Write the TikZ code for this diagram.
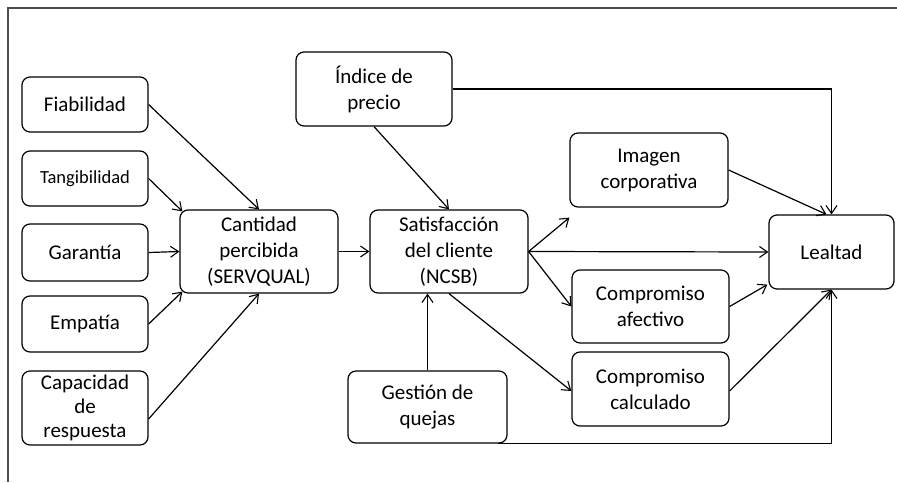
\documentclass[tikz,border=0pt]{standalone}
\usepackage{fontspec}
\setmainfont{Carlito}
\usetikzlibrary{arrows.meta}
\begin{document}
\begin{tikzpicture}[x=1pt,y=-1pt,
  box/.style={draw, rounded corners=8pt, align=center, inner sep=0pt, line width=1.2pt,
    font=\fontsize{21}{26}\selectfont},
  arr/.style={-{Straight Barb[length=8pt,width=11pt,line width=1.1pt]}, line width=1.2pt},
  ln/.style={line width=1.2pt}]
\useasboundingbox (0,0) rectangle (897,482);
\draw[line width=1.4pt, black!70] (897,8) -- (8,8) -- (8,482);
\node[box, minimum width=126pt, minimum height=55pt] (fia) at (85,104.5) {Fiabilidad};
\node[box, minimum width=126pt, minimum height=55pt, font=\fontsize{18.5}{22}\selectfont] (tan) at (85,178.5) {Tangibilidad};
\node[box, minimum width=126pt, minimum height=57pt] (gar) at (85,252.5) {Garantía};
\node[box, minimum width=126pt, minimum height=56pt] (emp) at (85,324) {Empatía};
\node[box, minimum width=126pt, minimum height=74pt, font=\fontsize{21}{24}\selectfont] (cap) at (85,408) {Capacidad\\de\\respuesta};
\node[box, minimum width=158pt, minimum height=83pt] (can) at (259,251.5) {Cantidad\\percibida\\(SERVQUAL)};
\node[box, minimum width=158pt, minimum height=83pt] (sat) at (449,251.5) {Satisfacción\\del cliente\\(NCSB)};
\node[box, minimum width=156pt, minimum height=74pt] (ind) at (374,89) {Índice de\\precio};
\node[box, minimum width=159pt, minimum height=72pt] (ges) at (427.5,407) {Gestión de\\quejas};
\node[box, minimum width=158pt, minimum height=74pt] (img) at (649,170) {Imagen\\corporativa};
\node[box, minimum width=157pt, minimum height=73pt] (afe) at (650.5,306.5) {Compromiso\\afectivo};
\node[box, minimum width=157pt, minimum height=74pt] (cal) at (650.5,389) {Compromiso\\calculado};
\node[box, minimum width=125pt, minimum height=74pt] (lea) at (831.5,252) {Lealtad};
% inputs to Cantidad
\draw[arr] (fia.east) -- (can.north);
\draw[arr] (tan.east) -- ([shift={(3,2)}]can.north west);
\draw[arr] (gar.east) -- (can.west);
\draw[arr] (emp.east) -- ([shift={(3,-2)}]can.south west);
\draw[arr] ([yshift=-11pt]cap.east) -- (can.south);
\draw[arr] (can.east) -- (sat.west);
% to Satisfaccion
\draw[arr] (ind.south) -- (sat.north);
\draw[arr] (ges.north) -- (ges.north |- sat.south);
% from Satisfaccion
\draw[arr] (sat.east) -- ([yshift=-10pt]img.south west);
\draw[arr] (sat.east) -- (lea.west);
\draw[arr] (sat.east) -- (afe.west);
\draw[arr] (sat.south) -- ([yshift=-2pt]cal.west);
% to Lealtad
\draw[arr] (ind.east) -| (lea.north);
\draw[arr] (img.east) -- ([xshift=-5pt]lea.north);
\draw[arr] (afe.east) -- ([shift={(-1,-5)}]lea.south west);
\draw[arr] ([yshift=-2pt]cal.east) -- (lea.south);
\draw[arr] ([xshift=70pt]ges.south) -| (lea.south);
\end{tikzpicture}
\end{document}
